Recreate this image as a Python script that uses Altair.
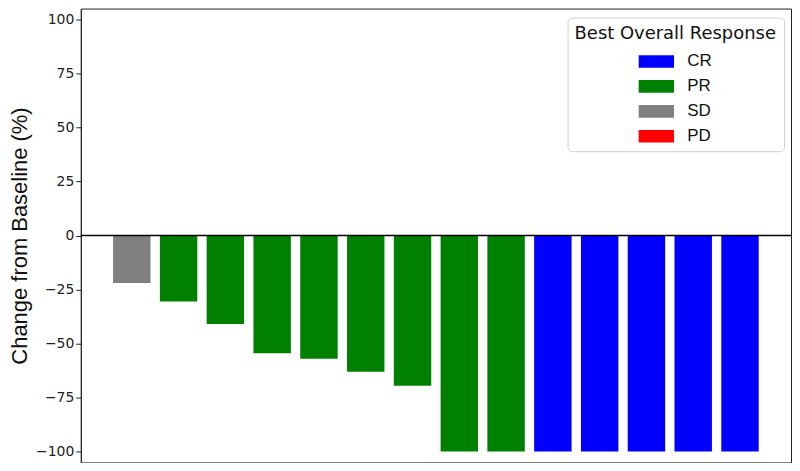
import altair as alt
import pandas as pd

patients = [f"P{i:02d}" for i in range(1, 15)]
responses = ["SD", "PR", "PR", "PR", "PR", "PR", "PR", "PR", "PR",
             "CR", "CR", "CR", "CR", "CR"]
changes = [-22, -30.5, -41, -54.5, -57, -63, -69.5, -100, -100,
           -100, -100, -100, -100, -100]
categories = ["CR", "PR", "SD", "PD"]
colors = ["#0000FF", "#008000", "#808080", "#FF0000"]
y_ticks = [-100, -75, -50, -25, 0, 25, 50, 75, 100]

df = pd.DataFrame({"patient": patients, "response": responses, "change": changes})

DEJAVU = "DejaVu Sans"
ARIAL = "Liberation Sans"

bars = alt.Chart(df).mark_bar().encode(
    x=alt.X("patient:N", sort=None, axis=None,
            scale=alt.Scale(paddingInner=0.2, paddingOuter=0.69)),
    y=alt.Y("change:Q",
            scale=alt.Scale(domain=[-105, 105], nice=False, zero=False),
            axis=alt.Axis(values=y_ticks, title="Change from Baseline (%)",
                          grid=False, labelFont=DEJAVU, labelFontSize=14,
                          titleFont=ARIAL, titleFontSize=22,
                          titleFontWeight="normal", labelColor="#222",
                          titleColor="#111", tickColor="#222", domainColor="#222",
                          tickSize=5, labelPadding=2, titlePadding=4,
                          labelExpr="replace(datum.label, '-', '\u2212')")),
    color=alt.Color("response:N",
                    scale=alt.Scale(domain=categories, range=colors),
                    legend=alt.Legend(
                        title="Best Overall Response", orient="none",
                        legendX=488, legendY=9,
                        titleFont=DEJAVU, titleFontSize=18, titleFontWeight="normal",
                        titleLimit=400, titleColor="#111",
                        labelFont=ARIAL, labelFontSize=17, labelColor="#111",
                        symbolType="M-1.4,-0.5H1.4V0.5H-1.4Z", symbolSize=640,
                        symbolStrokeWidth=0, symbolOpacity=1,
                        symbolOffset=69, labelOffset=18,
                        rowPadding=4, titlePadding=6,
                        padding=7, fillColor="white", strokeColor="#d0d0d0",
                        cornerRadius=4)),
)

zero = alt.Chart(pd.DataFrame({"y": [0]})).mark_rule(color="black", strokeWidth=1.6).encode(
    y="y:Q"
)

chart = (bars + zero).properties(
    width=712, height=455, padding={"left": 0, "top": 0, "right": 0, "bottom": 0}
).configure(font=DEJAVU).configure_view(stroke="#222", strokeWidth=1)

chart.save("out.html", embed_options={"renderer": "svg", "actions": False})
